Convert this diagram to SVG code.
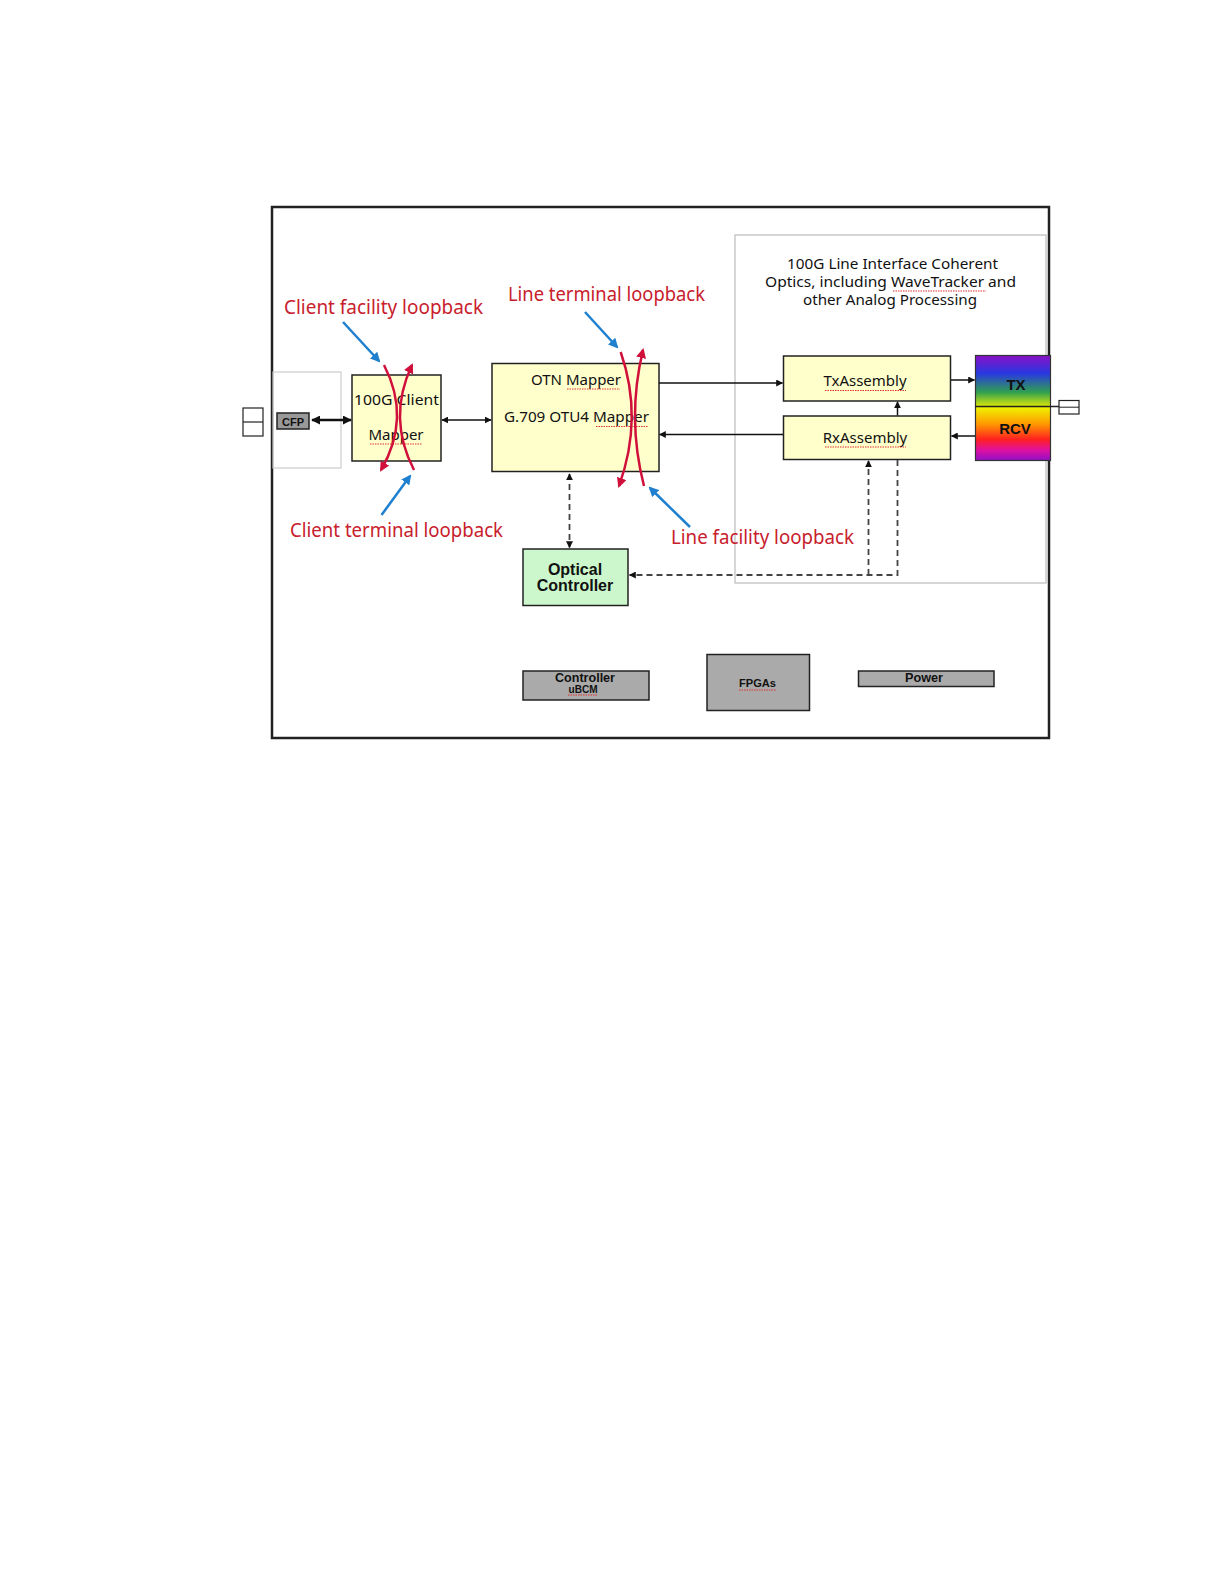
<svg xmlns="http://www.w3.org/2000/svg" width="1224" height="1584" viewBox="0 0 1224 1584">
<style>
.box{fill:#ffffcc;stroke:#222;stroke-width:1.5}
.gray{fill:#aaaaaa;stroke:#222;stroke-width:1.5}
.t{font-family:"Noto Sans","DejaVu Sans",sans-serif;font-size:15px;fill:#111}
.b{font-family:"Liberation Sans",Arial,sans-serif;font-weight:bold;fill:#111}
.red{font-family:"Noto Sans","DejaVu Sans",sans-serif;font-size:19px;fill:#c8202c}
.blk{stroke:#111;stroke-width:1.5;fill:none}
.bold{stroke:#111;stroke-width:2.5;fill:none}
.dash{stroke:#444;stroke-width:1.8;fill:none;stroke-dasharray:6 4}
.loop{stroke:#d0103a;stroke-width:2.5;fill:none;marker-end:url(#ra)}
.blue{stroke:#1f80d0;stroke-width:2.5;fill:none;marker-end:url(#ba)}
.sq{stroke:#e03030;stroke-width:1.2;stroke-dasharray:1.5 1}
</style>
<defs>
<marker id="ah" viewBox="0 0 10 10" refX="9" refY="5" markerWidth="7" markerHeight="7" markerUnits="userSpaceOnUse" orient="auto-start-reverse"><path d="M0,0 L10,5 L0,10 z" fill="#111"/></marker>
<marker id="ah2" viewBox="0 0 10 10" refX="9" refY="5" markerWidth="9" markerHeight="9" markerUnits="userSpaceOnUse" orient="auto-start-reverse"><path d="M0,0 L10,5 L0,10 z" fill="#111"/></marker>
<marker id="ra" viewBox="0 0 10 10" refX="8" refY="5" markerWidth="10" markerHeight="10" markerUnits="userSpaceOnUse" orient="auto"><path d="M0,0 L10,5 L0,10 z" fill="#d0103a"/></marker>
<marker id="ba" viewBox="0 0 10 10" refX="8" refY="5" markerWidth="10" markerHeight="10" markerUnits="userSpaceOnUse" orient="auto"><path d="M0,0 L10,5 L0,10 z" fill="#1f80d0"/></marker>
<linearGradient id="rainbow" x1="0" y1="0" x2="0" y2="1">
<stop offset="0" stop-color="#8a10c8"/>
<stop offset="0.17" stop-color="#2838e0"/>
<stop offset="0.35" stop-color="#30a050"/>
<stop offset="0.5" stop-color="#f0f000"/>
<stop offset="0.65" stop-color="#ff9a00"/>
<stop offset="0.8" stop-color="#ff2020"/>
<stop offset="0.9" stop-color="#e010a0"/>
<stop offset="1" stop-color="#9010c8"/>
</linearGradient>
</defs>
<rect width="1224" height="1584" fill="#fff"/>

<g id="frame"><rect x="272" y="207" width="777" height="531" fill="none" stroke="#222" stroke-width="2.5"/></g>

<g id="line-interface">
<rect x="735" y="235" width="311" height="348" fill="none" stroke="#bbb" stroke-width="1.2"/>
<text class="t" text-anchor="middle" x="892.5" y="269" textLength="211" lengthAdjust="spacingAndGlyphs">100G Line Interface Coherent</text>
<text class="t" text-anchor="middle" x="890.5" y="287" textLength="251" lengthAdjust="spacingAndGlyphs">Optics, including WaveTracker and</text>
<text class="t" text-anchor="middle" x="890" y="305" textLength="174" lengthAdjust="spacingAndGlyphs">other Analog Processing</text>
<line class="sq" x1="893" y1="291" x2="986" y2="291"/>
</g>

<g id="cfp-area">
<rect x="273" y="372" width="68" height="96" fill="none" stroke="#ccc" stroke-width="1.2"/>
<rect x="277" y="413" width="32" height="16" fill="#999" stroke="#222" stroke-width="1.5"/>
<text class="b" x="293" y="425.5" font-size="11" text-anchor="middle">CFP</text>
</g>

<g id="left-port">
<rect x="243" y="408" width="20" height="28" fill="#fff" stroke="#222" stroke-width="1.2"/>
<line x1="243" y1="422" x2="263" y2="422" stroke="#222" stroke-width="1.2"/>
</g>

<g id="client-mapper">
<rect class="box" x="352" y="375" width="89" height="86"/>
<text class="t" x="396.5" y="405" text-anchor="middle" textLength="85" lengthAdjust="spacingAndGlyphs">100G Client</text>
<text class="t" x="396" y="440" text-anchor="middle">Mapper</text>
<line class="sq" x1="370" y1="444" x2="422" y2="444"/>
</g>

<g id="otn-mapper">
<rect class="box" x="492" y="363.5" width="167" height="108"/>
<text class="t" x="576" y="385" text-anchor="middle">OTN Mapper</text>
<text class="t" x="576.5" y="422" text-anchor="middle" textLength="145" lengthAdjust="spacingAndGlyphs">G.709 OTU4 Mapper</text>
<line class="sq" x1="567" y1="389" x2="620" y2="389"/>
<line class="sq" x1="596" y1="426.5" x2="648" y2="426.5"/>
</g>

<g id="tx-assembly">
<rect class="box" x="783.5" y="356" width="167" height="45"/>
<text class="t" x="865" y="386" text-anchor="middle">TxAssembly</text>
<line class="sq" x1="825" y1="390.5" x2="906" y2="390.5"/>
</g>

<g id="rx-assembly">
<rect class="box" x="783.5" y="416" width="167" height="43.5"/>
<text class="t" x="865" y="443" text-anchor="middle">RxAssembly</text>
<line class="sq" x1="825" y1="447" x2="906" y2="447"/>
</g>

<g id="optics">
<rect x="975.5" y="355.5" width="75" height="105" fill="url(#rainbow)" stroke="#333" stroke-width="1.2"/>
<line x1="975" y1="406.5" x2="1060" y2="406.5" stroke="#222" stroke-width="1.5"/>
<text class="b" x="1016" y="390" font-size="15" text-anchor="middle" fill="#222">TX</text>
<text class="b" x="1015" y="434" font-size="15" text-anchor="middle" fill="#222">RCV</text>
</g>

<g id="right-port">
<rect x="1059" y="400.5" width="20" height="13.5" fill="#fff" stroke="#222" stroke-width="1.2"/>
<line x1="1059" y1="407.2" x2="1079" y2="407.2" stroke="#222" stroke-width="1"/>
</g>

<g id="optical-controller">
<rect x="523" y="549" width="105" height="56.5" fill="#ccf7cc" stroke="#222" stroke-width="1.5"/>
<text class="b" x="575" y="575" font-size="16" text-anchor="middle">Optical</text>
<text class="b" x="575" y="591" font-size="16" text-anchor="middle">Controller</text>
</g>

<g id="controller">
<rect class="gray" x="523" y="671" width="126" height="29"/>
<text class="b" x="585" y="681.5" font-size="12.5" text-anchor="middle" textLength="60" lengthAdjust="spacingAndGlyphs">Controller</text>
<text class="b" x="583" y="693" font-size="11" text-anchor="middle" textLength="29" lengthAdjust="spacingAndGlyphs">uBCM</text>
<line class="sq" x1="568" y1="695" x2="597" y2="695"/>
</g>

<g id="fpgas">
<rect class="gray" x="707" y="654.5" width="102.5" height="56"/>
<text class="b" x="757.5" y="687" font-size="11" text-anchor="middle" textLength="37" lengthAdjust="spacingAndGlyphs">FPGAs</text>
<line class="sq" x1="739" y1="690" x2="776" y2="690"/>
</g>

<g id="power">
<rect class="gray" x="858.5" y="671" width="135.5" height="15.5"/>
<text class="b" x="924" y="682" font-size="12" text-anchor="middle" textLength="38" lengthAdjust="spacingAndGlyphs">Power</text>
</g>

<g id="connectors">
<line class="bold" x1="312" y1="420" x2="351" y2="420" marker-start="url(#ah2)" marker-end="url(#ah2)"/>
<line class="blk" x1="442" y1="420" x2="491" y2="420" marker-start="url(#ah)" marker-end="url(#ah)"/>
<line class="blk" x1="659" y1="383" x2="782.5" y2="383" marker-end="url(#ah)"/>
<line class="blk" x1="783" y1="434.5" x2="659.5" y2="434.5" marker-end="url(#ah)"/>
<line class="blk" x1="951" y1="380" x2="974.5" y2="380" marker-end="url(#ah)"/>
<line class="blk" x1="975" y1="436" x2="951.5" y2="436" marker-end="url(#ah)"/>
<line class="blk" x1="897.5" y1="415.5" x2="897.5" y2="402" stroke-width="1.2" marker-end="url(#ah)"/>
<line class="dash" x1="569.5" y1="474" x2="569.5" y2="547.5" marker-start="url(#ah)" marker-end="url(#ah)"/>
<path class="dash" d="M897.5,460 V575 H629.5" marker-end="url(#ah)"/>
<path class="dash" d="M868.5,575 V461" marker-end="url(#ah)"/>
</g>

<g id="loopbacks">
<path class="loop" d="M384,365 Q411.5,418 381,470"/>
<path class="loop" d="M414,470 Q387,418 412,365"/>
<path class="loop" d="M620.7,352 Q643.6,418 619,486"/>
<path class="loop" d="M644,486 Q626.5,418 643,350"/>
<line class="blue" x1="343" y1="322" x2="379" y2="361"/>
<line class="blue" x1="381.5" y1="515" x2="410" y2="476"/>
<line class="blue" x1="585" y1="312" x2="617" y2="347"/>
<line class="blue" x1="690" y1="527" x2="650" y2="488"/>
<text class="red" x="284" y="314" textLength="199" lengthAdjust="spacingAndGlyphs">Client facility loopback</text>
<text class="red" x="290" y="536.5" textLength="213" lengthAdjust="spacingAndGlyphs">Client terminal loopback</text>
<text class="red" x="508" y="300.5" textLength="197" lengthAdjust="spacingAndGlyphs">Line terminal loopback</text>
<text class="red" x="671" y="544" textLength="183" lengthAdjust="spacingAndGlyphs">Line facility loopback</text>
</g>
</svg>
